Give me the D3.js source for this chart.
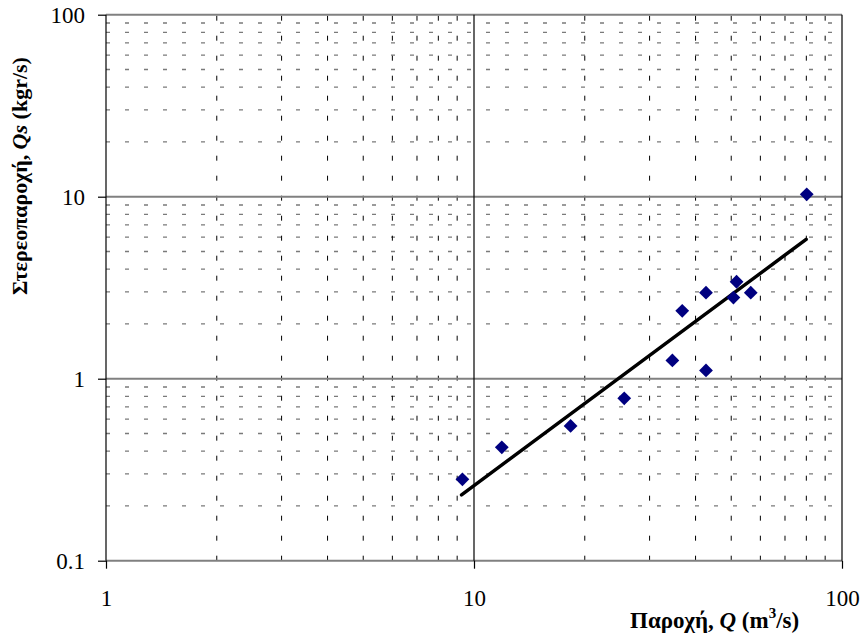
<!DOCTYPE html>
<html>
<head>
<meta charset="utf-8">
<script src="https://cdn.jsdelivr.net/npm/d3@7"></script>
<style>
  body { margin: 0; background: #fff; }
  svg { display: block; }
  text { font-family: "Liberation Serif", "Times New Roman", serif; fill: #000; }
</style>
</head>
<body>
<svg id="chart" width="863" height="641"></svg>
<script>
// measured data (Q in m3/s, Qs in kgr/s)
const discharge = [9.3, 11.9, 18.3, 25.6, 34.6, 36.8, 42.7, 42.7, 50.7, 51.7, 56.5, 80.2];
const sediment  = [0.28, 0.42, 0.55, 0.78, 1.26, 2.36, 2.97, 1.11, 2.79, 3.41, 2.97, 10.3];

// fitted power curve end points
const fitQ  = [9.25, 79.9];
const fitQs = [0.23, 5.83];

const xTicks = [1, 10, 100];
const yTicks = [0.1, 1, 10, 100];
const xTickLabels = ["1", "10", "100"];
const yTickLabels = ["0.1", "1", "10", "100"];

const svg = d3.select("#chart");
const margin = { left: 106, right: 21, top: 14.7, bottom: 80.3 };
const W = 863, H = 641;

const x = d3.scaleLog().domain([1, 100]).range([margin.left, W - margin.right]);
const y = d3.scaleLog().domain([0.1, 100]).range([H - margin.bottom, margin.top]);

// minor grid values (2..9 for each decade)
function minors(lo, hi) {
  const out = [];
  for (let d = lo; d < hi; d *= 10) {
    for (let k = 2; k <= 9; k++) out.push(+(d * k).toPrecision(3));
  }
  return out;
}
const xMinor = minors(1, 100);
const yMinor = minors(0.1, 100);

const grid = svg.append("g");

// horizontal minor gridlines, grey dashes
grid.selectAll("line.hmin").data(yMinor).join("line")
  .attr("class", "hmin")
  .attr("x1", x(1)).attr("x2", x(100))
  .attr("y1", d => y(d)).attr("y2", d => y(d))
  .attr("stroke", "#7a7a7a").attr("stroke-width", 1.4)
  .attr("stroke-dasharray", "4,15");

// vertical minor gridlines, black dashes
grid.selectAll("line.vmin").data(xMinor).join("line")
  .attr("class", "vmin")
  .attr("x1", d => x(d)).attr("x2", d => x(d))
  .attr("y1", y(0.1)).attr("y2", y(100))
  .attr("stroke", "#000").attr("stroke-width", 1)
  .attr("stroke-dasharray", "5,15");

// major horizontal gridlines (grey)
grid.selectAll("line.hmaj").data(yTicks).join("line")
  .attr("class", "hmaj")
  .attr("x1", x(1)).attr("x2", x(100))
  .attr("y1", d => y(d)).attr("y2", d => y(d))
  .attr("stroke", "#808080").attr("stroke-width", 2);

// major vertical gridlines / borders (black)
grid.selectAll("line.vmaj").data(xTicks).join("line")
  .attr("class", "vmaj")
  .attr("x1", d => x(d)).attr("x2", d => x(d))
  .attr("y1", y(0.1)).attr("y2", y(100))
  .attr("stroke", "#000").attr("stroke-width", 1.2);

// axes
const xAxis = d3.axisBottom(x).tickValues(xTicks)
  .tickFormat((d, i) => xTickLabels[i]).tickSize(8).tickPadding(21);
const yAxis = d3.axisLeft(y).tickValues(yTicks)
  .tickFormat((d, i) => yTickLabels[i]).tickSize(8).tickPadding(13);

const gx = svg.append("g").attr("transform", `translate(0,${y(0.1)})`).call(xAxis);
const gy = svg.append("g").attr("transform", `translate(${x(1)},0)`).call(yAxis);
[gx, gy].forEach(g => {
  g.select(".domain").remove();
  g.selectAll(".tick line").attr("stroke", "#000").attr("stroke-width", 1.2);
  g.selectAll(".tick text")
    .style("font-family", '"Liberation Serif", serif')
    .style("font-size", "23px").attr("fill", "#000");
});

// fitted line
const line = d3.line().x(d => x(d[0])).y(d => y(d[1]));
svg.append("path")
  .datum(d3.zip(fitQ, fitQs))
  .attr("d", line)
  .attr("fill", "none").attr("stroke", "#000").attr("stroke-width", 3.5)
  .attr("stroke-linecap", "round");

// data points, navy diamonds
const diamond = d3.symbol().type(d3.symbolSquare).size(95);
svg.append("g").selectAll("path").data(d3.zip(discharge, sediment)).join("path")
  .attr("d", diamond)
  .attr("transform", d => `translate(${x(d[0])},${y(d[1])}) rotate(45)`)
  .attr("fill", "#000080");

// axis titles
const xt = svg.append("text")
  .attr("x", 630).attr("y", 628)
  .style("font-size", "23px").style("font-weight", "bold");
xt.append("tspan").text("Παροχή, ");
xt.append("tspan").style("font-style", "italic").text("Q");
xt.append("tspan").text(" (m");
xt.append("tspan").attr("dy", -10).style("font-size", "15px").text("3");
xt.append("tspan").attr("dy", 10).text("/s)");

const yt = svg.append("text")
  .attr("transform", "translate(27,176) rotate(-90)")
  .attr("text-anchor", "middle")
  .style("font-size", "22px").style("font-weight", "bold");
yt.append("tspan").text("Στερεοπαροχή, ");
yt.append("tspan").style("font-style", "italic").text("Qs");
yt.append("tspan").text(" (kgr/s)");
</script>
</body>
</html>
